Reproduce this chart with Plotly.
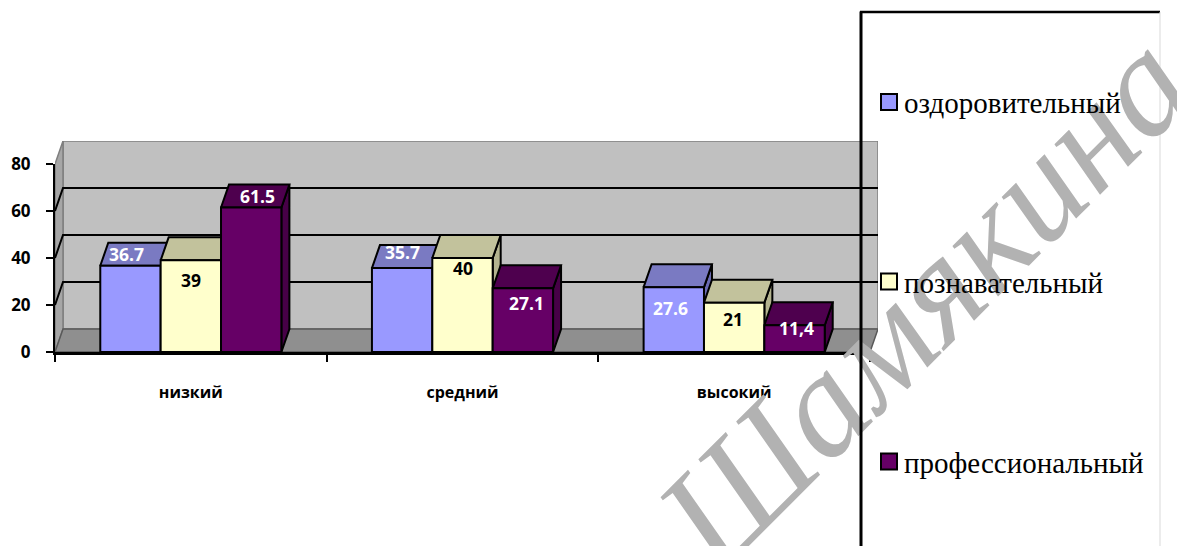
import plotly.graph_objects as go

categories = ["низкий", "средний", "высокий"]
series_names = ["оздоровительный", "познавательный", "профессиональный"]
ozd = [36.7, 35.7, 27.6]
poz = [39, 40, 21]
prof = [61.5, 27.1, 11.4]
label_ozd = ["36.7", "35.7", "27.6"]
label_poz = ["39", "40", "21"]
label_prof = ["61.5", "27.1", "11,4"]
y_ticks = [0, 20, 40, 60, 80]

values = [ozd, poz, prof]
labels = [label_ozd, label_poz, label_prof]
front = ["#9999ff", "#ffffcc", "#660066"]
top = ["#7a7ac2", "#c2c29c", "#4e004e"]
side = ["#6b6bb3", "#b3b38f", "#470047"]
label_col = ["white", "black", "white"]
# label shifts in px (right, down) relative to bar top-centre
shifts = [[(-3.5, -12), (0, -16), (-3, 21)],
          [(0, 20), (0, 10), (-1, 16)],
          [(6, -11.5), (4, 15), (2, 3)]]

W, H = 1177, 546
X0, X1, Y0, Y1 = 55, 870, 352, 164   # front plot rectangle in px
PXD, PYD = 8, 23                     # depth of the 3D box in px
DX, DY = PXD / ((X1 - X0) / 3), PYD / ((Y0 - Y1) / 80)
BAR = 1 / 4.5
XMIN, XMAX, YMAX = -0.5, 2.5, 80
FX1, FY1 = X1 + PXD, Y1 - PYD        # full rectangle including depth


def px(x):
    return (x - X0) / (FX1 - X0)


def py(y):
    return (Y0 - y) / (Y0 - FY1)


fig = go.Figure()


def poly(xs, ys, fill, line="black", lw=2):
    fig.add_trace(go.Scatter(x=xs + xs[:1], y=ys + ys[:1], mode="lines", fill="toself", fillcolor=fill,
                             line=dict(color=line, width=lw), hoverinfo="skip", showlegend=False,
                             cliponaxis=False))


# walls
poly([XMIN + DX, XMAX + DX, XMAX + DX, XMIN + DX], [DY, DY, YMAX + DY, YMAX + DY], "#c0c0c0", "#7f7f7f", 1.5)
poly([XMIN, XMIN + DX, XMIN + DX, XMIN], [0, DY, YMAX + DY, YMAX], "#a6a6a6", "#7f7f7f", 1.5)
poly([XMIN, XMAX, XMAX + DX, XMIN + DX], [0, 0, DY, DY], "#8f8f8f", "#595959", 1.5)
for t in y_ticks[1:-1]:
    fig.add_trace(go.Scatter(x=[XMIN, XMIN + DX, XMAX + DX], y=[t, t + DY, t + DY], mode="lines",
                             line=dict(color="black", width=2), hoverinfo="skip", showlegend=False,
                             cliponaxis=False))

# 3D tops and sides of bars
for c in range(3):
    for s in range(3):
        v = values[s][c]
        l = c + (s - 1.5) * BAR
        r = l + BAR
        poly([r, r + DX, r + DX, r], [0, DY, v + DY, v], side[s])
        poly([l, r, r + DX, l + DX], [v, v, v + DY, v + DY], top[s])

# front faces: real bars on a later subplot, so they paint over the sides
for s in range(3):
    fig.add_trace(go.Bar(x=list(range(3)), y=values[s], name=series_names[s], width=BAR,
                         offset=(s - 1.5) * BAR,
                         marker=dict(color=front[s], line=dict(color="black", width=2)),
                         xaxis="x2", yaxis="y2", showlegend=False))

annotations = []
# watermark
annotations.append(dict(text="<i>П. Шамякина</i>", xref="paper", yref="paper", x=px(859),
                        y=py(365), xanchor="center", yanchor="middle", textangle=-45, showarrow=False,
                        font=dict(family="Liberation Serif", size=148, color="#b2b2b2")))
# legend frame drawn above the watermark
annotations.append(dict(text=" ", xref="paper", yref="paper", x=px(861), y=py(279),
                        xanchor="center", yanchor="middle", showarrow=False, width=2, height=535,
                        bgcolor="black", borderpad=0, font=dict(size=1)))

for s in range(3):
    for c in range(3):
        dx, dy = shifts[s][c]
        annotations.append(dict(text="<b>%s</b>" % labels[s][c], x=c + (s - 1) * BAR, y=values[s][c],
                                xref="x2", yref="y2", xshift=dx, yshift=-dy, showarrow=False,
                                font=dict(family="Open Sans", size=17.5, color=label_col[s])))

legend_y = [102, 281.5, 461.5]
shapes = []
for s, ly in enumerate(legend_y):
    shapes.append(dict(type="rect", xref="paper", yref="paper", x0=px(881), x1=px(897), y0=py(ly - 8), y1=py(ly + 8),
                       fillcolor=front[s], line=dict(color="black", width=2), layer="above"))
    annotations.append(dict(text=series_names[s], xref="paper", yref="paper", x=px(902), y=py(ly + 1), xanchor="left",
                            yanchor="middle", showarrow=False,
                            font=dict(family="Liberation Serif", size=29, color="black")))

shapes.append(dict(type="line", xref="paper", yref="paper", x0=px(860), x1=px(1160), y0=py(12), y1=py(12),
                   line=dict(color="black", width=2.5)))
shapes.append(dict(type="line", xref="paper", yref="paper", x0=px(1160), x1=px(1160), y0=py(12), y1=py(546),
                   line=dict(color="#d9d9d9", width=1)))

fig.update_layout(
    width=W, height=H, autosize=False,
    margin=dict(l=X0, r=W - FX1, t=FY1, b=H - Y0, pad=0),
    paper_bgcolor="white", plot_bgcolor="rgba(0,0,0,0)", showlegend=False,
    barmode="overlay",
    xaxis=dict(range=[XMIN, XMAX + DX], domain=[0, 1], visible=False),
    yaxis=dict(range=[0, YMAX + DY], domain=[0, 1], visible=False),
    xaxis2=dict(range=[XMIN, XMAX], domain=[0, px(X1)], anchor="y2", tickvals=list(range(3)), ticktext=categories,
                ticks="", showgrid=False, zeroline=False, showline=True, linecolor="black", linewidth=2.5,
                ticklabelstandoff=24,
                minor=dict(tickvals=[-0.5, 0.5, 1.5, 2.5], ticks="outside", ticklen=7, tickwidth=2, tickcolor="black"),
                tickfont=dict(family="Open Sans", size=16, color="black", weight="bold")),
    yaxis2=dict(range=[0, YMAX], domain=[0, py(Y1)], anchor="x2", tickvals=y_ticks, ticks="outside", ticklen=7,
                tickwidth=2, tickcolor="black", showgrid=False, zeroline=False, showline=True, linecolor="black",
                linewidth=2, ticklabelstandoff=12,
                tickfont=dict(family="Open Sans", size=17, color="black", weight="bold")),
    annotations=annotations, shapes=shapes,
)

fig.write_html("out.html", config=dict(displayModeBar=False),
               post_script="document.body.style.margin='0';document.body.style.overflow='hidden';")
